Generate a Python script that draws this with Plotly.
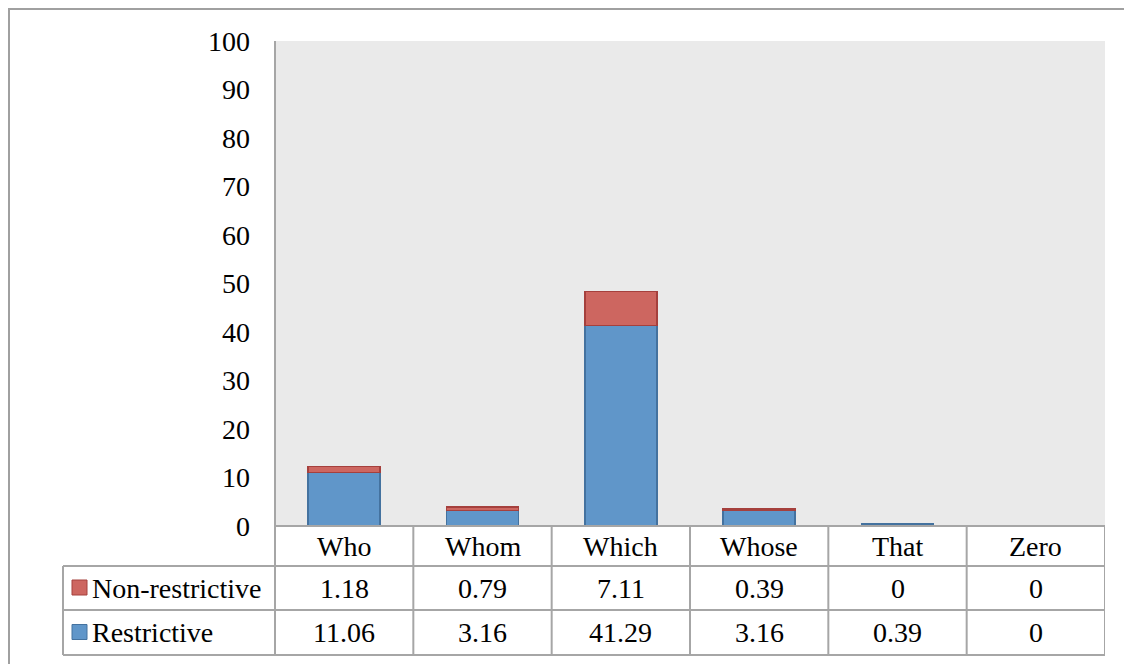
import plotly.graph_objects as go

categories = ["Who", "Whom", "Which", "Whose", "That", "Zero"]
restrictive = [11.06, 3.16, 41.29, 3.16, 0.39, 0]
non_restrictive = [1.18, 0.79, 7.11, 0.39, 0, 0]
series_names = ["Non-restrictive", "Restrictive"]
y_ticks = [0, 10, 20, 30, 40, 50, 60, 70, 80, 90, 100]

OFF = 8  # page body margin
W, H = 1132 - OFF, 664 - OFF
def px(x):
    return (x - OFF) / W
def py(y):
    return 1 - (y - OFF) / H

FONT = "Liberation Serif"
FS = 28
GRID = "#A6A6A6"
BLUE = "#6096C9"
BLUE_LINE = "#44729F"
RED = "#CD6660"
RED_LINE = "#A5403D"

plot_left, plot_right = 275, 1105
plot_top, plot_bottom = 41, 526
row_lines = [526, 566, 610, 655]
legend_left = 63

def line_widths(vals):
    return [1.5 if v > 0 else 0 for v in vals]

fig = go.Figure()
fig.add_trace(go.Bar(x=categories, y=restrictive, name=series_names[1], width=0.52,
                     marker=dict(color=BLUE, line=dict(color=BLUE_LINE, width=line_widths(restrictive)))))
fig.add_trace(go.Bar(x=categories, y=non_restrictive, name=series_names[0], width=0.52,
                     marker=dict(color=RED, line=dict(color=RED_LINE, width=line_widths(non_restrictive)))))

shapes = []
# outer frame
shapes.append(dict(type="rect", xref="paper", yref="paper", x0=px(9), y0=py(9), x1=px(1150), y1=py(690),
                   line=dict(color="#A0A0A0", width=2), fillcolor="rgba(0,0,0,0)", layer="below"))
# horizontal table lines
shapes.append(dict(type="line", xref="paper", yref="paper", x0=px(plot_left), x1=px(plot_right),
                   y0=py(row_lines[0]), y1=py(row_lines[0]), line=dict(color=GRID, width=2)))
for r in row_lines[1:]:
    shapes.append(dict(type="line", xref="paper", yref="paper", x0=px(legend_left), x1=px(plot_right),
                       y0=py(r), y1=py(r), line=dict(color=GRID, width=2)))
# vertical table lines at category boundaries
for i in range(len(categories) + 1):
    shapes.append(dict(type="line", xref="x", yref="paper", x0=i - 0.5, x1=i - 0.5,
                       y0=py(row_lines[0]), y1=py(row_lines[-1]),
                       line=dict(color=GRID, width=2)))
# left axis line extending to table bottom
shapes.append(dict(type="line", xref="paper", yref="paper", x0=px(plot_left), x1=px(plot_left),
                   y0=py(plot_top), y1=py(row_lines[-1]), line=dict(color=GRID, width=2)))
# legend column left border
shapes.append(dict(type="line", xref="paper", yref="paper", x0=px(legend_left), x1=px(legend_left),
                   y0=py(row_lines[1]), y1=py(row_lines[-1]), line=dict(color=GRID, width=2)))

annotations = []
for c in categories:
    annotations.append(dict(x=c, xref="x", y=py((row_lines[0] + row_lines[1]) / 2), yref="paper",
                            text=c, showarrow=False, xanchor="center", yanchor="middle",
                            font=dict(family=FONT, size=FS, color="black")))

def fmt(v):
    return "%g" % v

rows = [(series_names[0], non_restrictive, RED, RED_LINE), (series_names[1], restrictive, BLUE, BLUE_LINE)]
for k, (name, vals, col, lcol) in enumerate(rows):
    yc = (row_lines[k + 1] + row_lines[k + 2]) / 2
    for c, v in zip(categories, vals):
        annotations.append(dict(x=c, xref="x", y=py(yc), yref="paper", text=fmt(v), showarrow=False,
                                xanchor="center", yanchor="middle",
                                font=dict(family=FONT, size=FS, color="black")))
    shapes.append(dict(type="rect", xref="paper", yref="paper", x0=px(72), x1=px(87),
                       y0=py(yc - 8), y1=py(yc + 7), fillcolor=col, line=dict(color=lcol, width=1)))
    annotations.append(dict(x=px(90), xref="paper", y=py(yc), yref="paper", text=name, showarrow=False,
                            xanchor="left", yanchor="middle",
                            font=dict(family=FONT, size=FS, color="black")))

fig.update_layout(
    width=W, height=H, autosize=False,
    margin=dict(l=0, r=0, t=0, b=0, pad=0, autoexpand=False),
    paper_bgcolor="white",
    plot_bgcolor="#EAEAEA",
    barmode="stack",
    showlegend=False,
    shapes=shapes,
    annotations=annotations,
    xaxis=dict(domain=[px(plot_left), px(plot_right)], showticklabels=False, showgrid=False,
               zeroline=False, showline=False, ticks="", range=[-0.5, len(categories) - 0.5],
               automargin=False, fixedrange=True),
    yaxis=dict(domain=[py(plot_bottom), py(plot_top)], range=[0, 100], tickvals=y_ticks,
               showgrid=False, zeroline=False, showline=False, ticks="",
               ticklabelstandoff=24, automargin=False,
               tickfont=dict(family=FONT, size=FS, color="black")),
)

fig.write_html("out.html")
